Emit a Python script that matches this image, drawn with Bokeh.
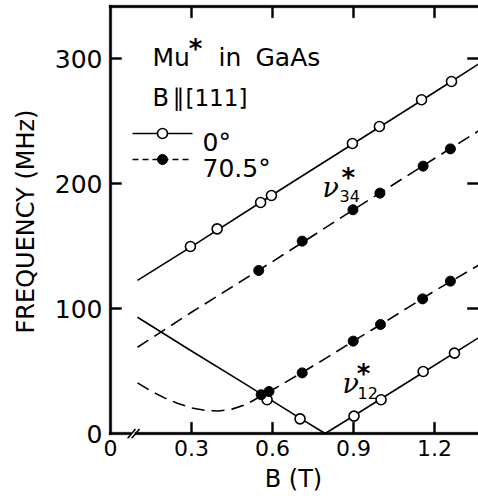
from bokeh.plotting import figure
from bokeh.models import Range1d, FixedTicker, Label
from bokeh.embed import file_html
from bokeh.resources import INLINE

# ---- data ----
# measured points, nu34*, 0 deg (open circles)
nu34_0_B = [0.296, 0.395, 0.556, 0.596, 0.896, 0.996, 1.152, 1.263]
nu34_0_f = [149.6, 163.7, 184.8, 190.4, 232.0, 245.6, 267.0, 281.6]
# measured points, nu34*, 70.5 deg (filled dots)
nu34_70_B = [0.549, 0.710, 0.898, 0.998, 1.158, 1.259]
nu34_70_f = [130.4, 153.9, 179.0, 192.3, 213.9, 227.7]
# measured points, nu12*, 0 deg
nu12_0_B = [0.580, 0.702, 0.902, 1.002, 1.158, 1.274]
nu12_0_f = [27.0, 11.7, 13.9, 27.0, 49.6, 64.3]
# measured points, nu12*, 70.5 deg
nu12_70_B = [0.558, 0.587, 0.710, 0.899, 1.000, 1.156, 1.259]
nu12_70_f = [31.0, 33.6, 48.5, 73.9, 87.2, 107.7, 121.9]

# theory curves
c34_0_B = [0.10, 0.30, 0.60, 0.90, 1.20, 1.37]
c34_0_f = [122.5, 149.5, 191.0, 232.0, 273.0, 296.5]
c34_70_B = [0.10, 0.30, 0.60, 0.90, 1.20, 1.37]
c34_70_f = [69.0, 97.0, 137.5, 179.0, 220.0, 243.0]
c12_0_B = [0.10, 0.30, 0.50, 0.70, 0.795, 0.90, 1.10, 1.37]
c12_0_f = [93.0, 66.0, 39.5, 12.5, 0.0, 14.0, 41.0, 77.5]
c12_70_B = [0.10, 0.15, 0.20, 0.25, 0.30, 0.35, 0.40, 0.45, 0.50, 0.55,
            0.60, 0.70, 0.80, 0.90, 1.00, 1.10, 1.20, 1.37]
c12_70_f = [40.5, 34.0, 28.5, 24.0, 20.5, 18.5, 18.0, 19.5, 23.0, 29.0,
            35.0, 47.5, 60.5, 74.0, 87.0, 100.5, 114.0, 135.5]

X_TICKS = [0, 0.3, 0.6, 0.9, 1.2]
X_TICK_LABELS = ["0", "0.3", "0.6", "0.9", "1.2"]
Y_TICKS = [0, 100, 200, 300]
Y_TICK_LABELS = ["0", "100", "200", "300"]

SANS = "DejaVu Sans"
DASH = "13 7"
LW = 1.6

# axis box (data units), line half-thickness and tick lengths (data units)
X_MAX = 1.363
Y_TOP = 341.6
HX = 1.2 / 270      # px in x
HY = 1.2 / 1.25     # px in y
TICK_DX = 11 / 270
TICK_DY = 9.0

p = figure(frame_width=370, frame_height=434,
           x_range=Range1d(-2 / 270, X_MAX), y_range=Range1d(-4.0, 343.2),
           output_backend="svg", toolbar_location=None,
           min_border_left=108, min_border_right=0, min_border_top=4,
           min_border_bottom=58)
p.outline_line_color = None
p.grid.visible = False
p.background_fill_color = None
p.border_fill_color = "white"

def style_axis(ax, size):
    ax.axis_line_color = None
    ax.major_tick_line_color = None
    ax.minor_tick_line_color = None
    ax.major_tick_in = 0
    ax.major_tick_out = 0
    ax.major_label_text_font = SANS
    ax.major_label_text_font_size = size
    ax.major_label_text_color = "black"

xa = p.xaxis[0]
xa.ticker = FixedTicker(ticks=X_TICKS)
xa.major_label_overrides = {t: l for t, l in zip(X_TICKS, X_TICK_LABELS)}
style_axis(xa, "22px")
xa.major_label_standoff = 1
xa.axis_label = "B (T)"
xa.axis_label_text_font = SANS
xa.axis_label_text_font_size = "24px"
xa.axis_label_text_font_style = "normal"
xa.axis_label_text_color = "black"
xa.axis_label_standoff = 6

ya = p.yaxis[0]
ya.ticker = FixedTicker(ticks=Y_TICKS)
ya.major_label_overrides = {t: l for t, l in zip(Y_TICKS, Y_TICK_LABELS)}
style_axis(ya, "25px")
ya.major_label_standoff = 6
ya.axis_label = "FREQUENCY (MHz)"
ya.axis_label_text_font = SANS
ya.axis_label_text_font_size = "24px"
ya.axis_label_text_font_style = "normal"
ya.axis_label_text_color = "black"
ya.axis_label_standoff = 12

# ---- curves ----
p.line(c34_0_B, c34_0_f, line_color="black", line_width=LW)
p.line(c12_0_B, c12_0_f, line_color="black", line_width=LW)
p.line(c34_70_B, c34_70_f, line_color="black", line_width=LW, line_dash=DASH)
p.line(c12_70_B, c12_70_f, line_color="black", line_width=LW, line_dash=DASH)

# ---- points ----
for B, f in ((nu34_0_B, nu34_0_f), (nu12_0_B, nu12_0_f)):
    p.scatter(B, f, marker="circle", size=10, fill_color="white",
              line_color="black", line_width=1.6)
for B, f in ((nu34_70_B, nu34_70_f), (nu12_70_B, nu12_70_f)):
    p.scatter(B, f, marker="circle", size=10, fill_color="black",
              line_color="black", line_width=1)

# ---- axis box lines and inward ticks as thin filled bars ----
BRK0, BRK1 = 0.076, 0.091
L, R, Bo, T = [], [], [], []
def bar(l, r, b, t):
    L.append(l); R.append(r); Bo.append(b); T.append(t)
bar(-HX, HX, -HY, Y_TOP + HY)                 # left
bar(-HX, X_MAX, Y_TOP - HY, Y_TOP + HY)       # top
bar(-HX, BRK0, -HY, HY)                       # bottom, left of break
bar(BRK1, X_MAX, -HY, HY)                     # bottom, right of break
for t in Y_TICKS[1:]:
    bar(0, TICK_DX, t - 0.8 * HY, t + 0.8 * HY)
    bar(X_MAX - TICK_DX, X_MAX, t - 0.8 * HY, t + 0.8 * HY)
for t in X_TICKS[1:]:
    bar(t - 0.8 * HX, t + 0.8 * HX, 0, TICK_DY)
    bar(t - 0.8 * HX, t + 0.8 * HX, Y_TOP - TICK_DY, Y_TOP)
box = p.quad(left=L, right=R, bottom=Bo, top=T, fill_color="black",
             line_color="black", line_width=0.5)
box.level = "overlay"
# axis break "//"
brk1 = p.line([0.0630, 0.0926], [-4.0, 3.6], line_color="black", line_width=1.6)
brk2 = p.line([0.0778, 0.1074], [-4.0, 3.6], line_color="black", line_width=1.6)

# ---- legend ----
LEG_X0, LEG_X1, LEG_XM = 0.0815, 0.3037, 0.1926
LEG_Y = [240.0, 219.2]
p.line([LEG_X0, LEG_X1], [LEG_Y[0]] * 2, line_color="black", line_width=LW)
p.scatter([LEG_XM], [LEG_Y[0]], marker="circle", size=10, fill_color="white",
          line_color="black", line_width=1.6)
p.line([LEG_X0, LEG_X1], [LEG_Y[1]] * 2, line_color="black", line_width=LW,
       line_dash="6 4")
p.scatter([LEG_XM], [LEG_Y[1]], marker="circle", size=10, fill_color="black",
          line_color="black")

def lab(x, y, t, size, font=SANS, style="normal", align="left",
        baseline="alphabetic"):
    p.add_layout(Label(x=x, y=y, text=t, text_font=font, text_font_size=size,
                       text_font_style=style, text_align=align,
                       text_baseline=baseline, text_color="black"))

lab(0.3407, 232.8, "0°", "25px")
lab(0.3407, 212.0, "70.5°", "25px")

lab(0.1556, 300.8, "Mu", "25px")
lab(0.4000, 300.8, "in", "25px")
lab(0.5370, 300.8, "GaAs", "25px")
lab(0.1556, 268.8, "B", "24px")
lab(0.2296, 268.8, "∥", "24px")
lab(0.2778, 268.8, "[111]", "23px")

# stars (superscripts)
lab(0.3148, 307.6, "*", "26px", style="bold", align="center",
    baseline="middle")
lab(0.8810, 204.8, "*", "26px", style="bold", align="center",
    baseline="middle")
lab(0.9370, 48.0, "*", "26px", style="bold", align="center",
    baseline="middle")

# nu labels
lab(0.785, 196.8, "ν", "27px", font="DejaVu Serif", style="italic")
lab(0.848, 190.0, "34", "16px")
lab(0.859, 40.0, "ν", "27px", font="DejaVu Serif", style="italic")
lab(0.915, 32.8, "12", "16px")

open("out.html", "w").write(file_html(p, INLINE))
